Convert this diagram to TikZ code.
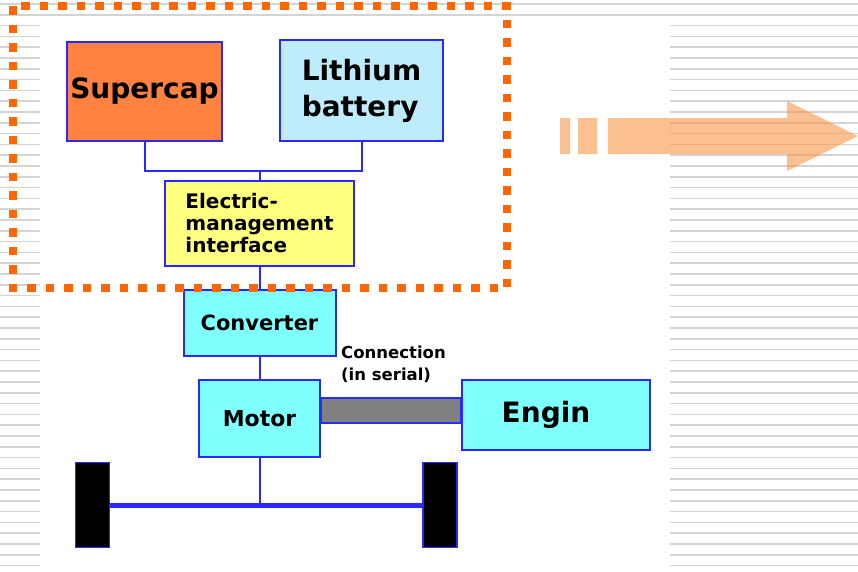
\documentclass[tikz,border=0pt]{standalone}
\usepackage{fontspec}
\setmainfont{DejaVu Sans}
\definecolor{blueline}{RGB}{40,40,255}
\definecolor{capfill}{RGB}{255,130,64}
\definecolor{batfill}{RGB}{190,236,250}
\definecolor{emifill}{RGB}{255,255,128}
\definecolor{cyanfill}{RGB}{128,255,255}
\definecolor{dotorange}{RGB}{255,102,0}
\definecolor{arroworange}{RGB}{247,150,70}
\definecolor{stripegray}{RGB}{212,212,212}

\tikzset{
  unit/.style={draw=blueline, line width=2pt, inner sep=0pt},
  wire/.style={draw=blueline, line width=2pt},
  wheel/.style={draw=blueline, fill=black, line width=1.5pt, minimum width=34pt, minimum height=85pt, inner sep=0pt},
}

\begin{document}
\begin{tikzpicture}[x=1pt,y=-1pt]
            \useasboundingbox (0,0) rectangle (858,571);
            % Striped page
            \foreach \yy in {4,14.8,...,571}
                \draw[color=stripegray, line width=1.6pt] (0,\yy) -- (858,\yy);
            \fill[white] (40,22) rectangle (670,571);
            % Storage side
            \node[unit, fill=capfill, minimum width=155pt, minimum height=99pt,
                  font=\bfseries\fontsize{28}{30}\selectfont] (cap) at (144.5,91.5) {Supercap};
            \node[unit, fill=batfill, minimum width=163pt, minimum height=101pt, align=left,
                  font=\bfseries\fontsize{28}{36}\selectfont] (bat) at (361.5,90.5) {Lithium\\battery};
            \node[unit, fill=emifill, minimum width=189pt, minimum height=85pt, align=left,
                  font=\bfseries\fontsize{20}{22}\selectfont] (emi) at (259.5,223.5) {Electric-\\management\\interface};
            % Drive side
            \node[unit, fill=cyanfill, minimum width=152pt, minimum height=66pt,
                  font=\bfseries\fontsize{21}{24}\selectfont] (conv) at (259.5,323) {Converter};
            \node[unit, fill=cyanfill, minimum width=121pt, minimum height=77pt,
                  font=\bfseries\fontsize{22}{24}\selectfont] (mot) at (259.5,418.5) {Motor};
            \node[unit, fill=cyanfill, minimum width=188pt, minimum height=70pt,
                  font=\bfseries\fontsize{28}{30}\selectfont] (eng) at (556,415) {\hspace*{-20pt}Engin};
            \node[font=\bfseries\fontsize{16.5}{22}\selectfont, align=left, anchor=north west,
                  inner sep=0pt] (lbl) at (341,346) {Connection\\(in serial)};
            % Wheels
            \node[wheel] (lw) at (92.5,505) {};
            \node[wheel] (rw) at (440,505) {};
            % Wires
            \coordinate (jn) at (emi.north |- 0,171);
            \draw[wire] (cap.south) |- (jn) -| (bat.south);
            \draw[wire] (jn) -- (emi.north);
            \draw[wire] (emi.south) -- (conv.north);
            \draw[wire] (conv.south) -- (mot.north);
            \draw[wire] (mot.south) -- (mot.south |- lw.east);
            \draw[wire, line width=5pt] (lw.east) -- (rw.west);
            % Shaft between motor and engine
            \draw[draw=blueline, fill=gray, line width=1.5pt] (mot.east |- 0,398) rectangle (eng.west |- 0,423);
            % Dotted frame
            \draw[color=dotorange, line width=8.5pt, dash pattern=on 8.5pt off 10pt] (13,6) rectangle (507,288);
            % Big arrow
            \fill[color=arroworange, opacity=0.6] (560,118) rectangle (570,154) (578,118) rectangle (597,154)
                (608,118) -- (787,118) -- (787,101) -- (858,136) -- (787,171) -- (787,154) -- (608,154) -- cycle;
\end{tikzpicture}
\end{document}
